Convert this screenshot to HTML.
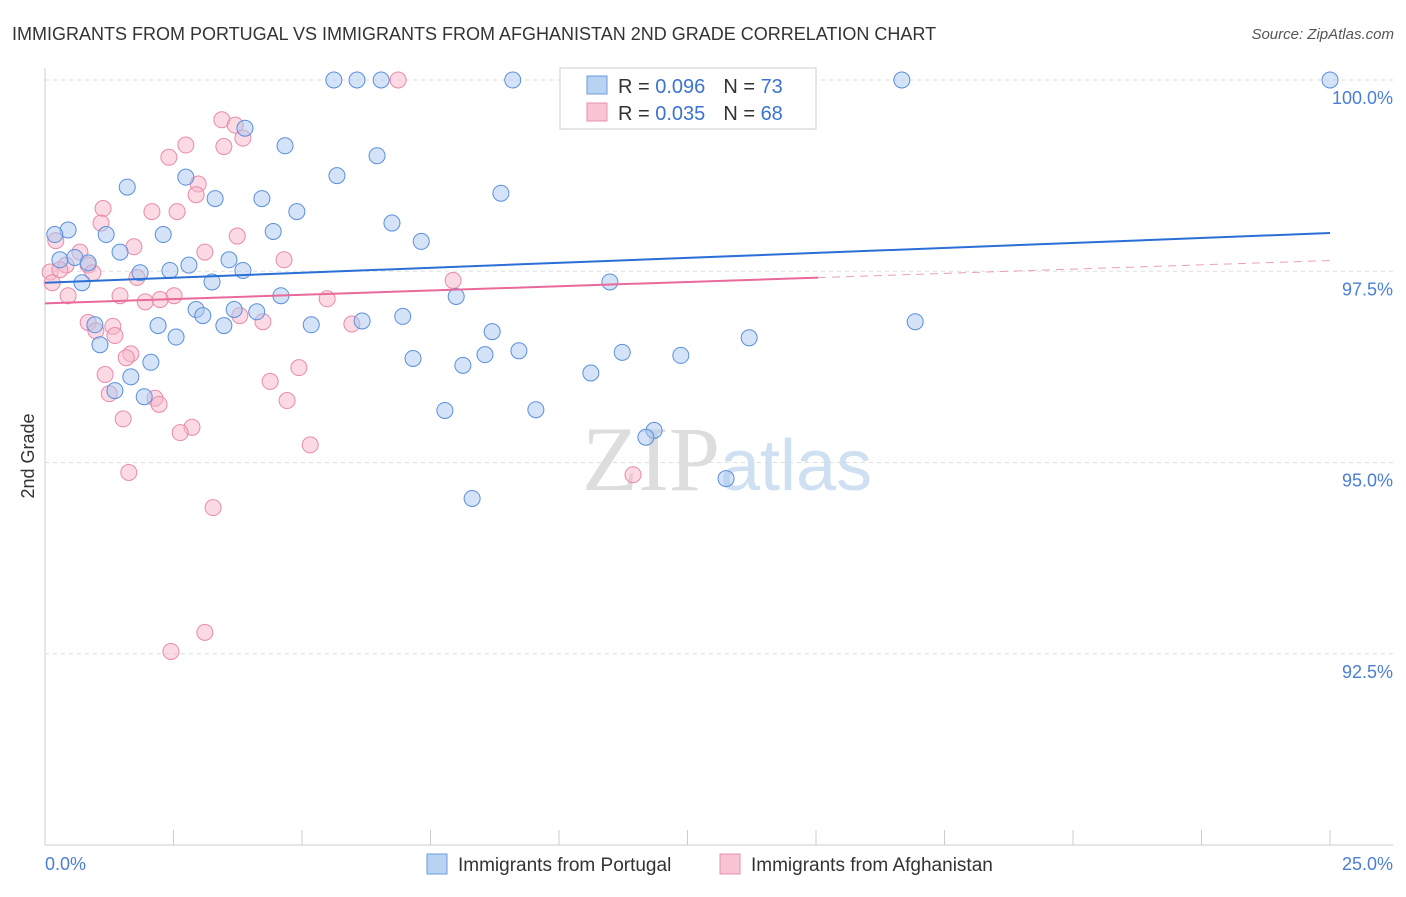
<!DOCTYPE html>
<html><head><meta charset="utf-8"><style>
body{margin:0;background:#fff;font-family:"Liberation Sans",sans-serif;}
</style></head><body>
<svg width="1406" height="892" xmlns="http://www.w3.org/2000/svg">
<text x="12" y="40" font-size="18" fill="#333">IMMIGRANTS FROM PORTUGAL VS IMMIGRANTS FROM AFGHANISTAN 2ND GRADE CORRELATION CHART</text>
<text x="1394" y="39" font-size="15" fill="#555" font-style="italic" text-anchor="end">Source: ZipAtlas.com</text>
<g id="grid"></g>
<text x="720" y="490" font-size="92" fill="#ddd" text-anchor="end" font-family="Liberation Serif">ZIP</text>
<text x="720" y="490" font-size="72" fill="#cfe0f2">atlas</text>
<text x="34" y="456" font-size="18" fill="#333" transform="rotate(-90 34 456)" text-anchor="middle">2nd Grade</text>
<text x="45" y="870" font-size="18" fill="#4a7fd4">0.0%</text>
<text x="1393" y="870" font-size="18" fill="#4a7fd4" text-anchor="end">25.0%</text>
<g id="pts"></g>
<g id="trend"></g>
<rect x="560" y="68" width="256" height="61" fill="#fff" stroke="#ccc"/>
<rect x="587" y="76" width="20" height="18" fill="#b8d2f2" stroke="#6a9be0"/>
<rect x="587" y="103" width="20" height="18" fill="#f9c4d4" stroke="#e890ab"/>
<text x="618" y="93" font-size="20" fill="#333">R = <tspan fill="#3b73d0">0.096</tspan><tspan dx="18">N = </tspan><tspan fill="#3b73d0">73</tspan></text>
<text x="618" y="120" font-size="20" fill="#333">R = <tspan fill="#3b73d0">0.035</tspan><tspan dx="18">N = </tspan><tspan fill="#3b73d0">68</tspan></text>
<rect x="427" y="854" width="20" height="20" fill="#b8d2f2" stroke="#6a9be0"/>
<text x="458" y="871" font-size="19" fill="#333">Immigrants from Portugal</text>
<rect x="720" y="854" width="20" height="20" fill="#f9c4d4" stroke="#e890ab"/>
<text x="751" y="871" font-size="19" fill="#333">Immigrants from Afghanistan</text>
</svg>
<script>
const yTicks=[100,97.5,95,92.5];
const yTickLabels=["100.0%","97.5%","95.0%","92.5%"];
const xTickVals=[0,2.5,5,7.5,10,12.5,15,17.5,20,22.5,25];
const portugalX=[5.62,6.07,6.54,9.10,13.85,16.67,25.0,3.89,4.67,6.46,2.74,5.68,1.60,3.31,4.22,8.87,4.90,6.75,0.45,0.19,1.19,2.30,4.44,7.32,1.46,0.29,0.58,0.84,2.80,3.58,1.85,2.43,3.85,3.25,0.72,10.99,4.59,8.00,2.94,3.68,4.12,3.07,6.96,0.97,2.20,3.48,5.18,6.17,16.93,2.55,8.70,1.07,13.70,9.22,8.56,11.23,12.37,7.16,8.13,2.06,10.62,1.67,1.36,1.93,7.78,9.55,11.85,11.69,13.25,8.31];
const portugalY=[100,100,100,100,100,100,100,99.37,99.14,99.01,98.73,98.75,98.60,98.45,98.45,98.52,98.28,98.13,98.04,97.98,97.98,97.98,98.02,97.89,97.75,97.65,97.68,97.61,97.58,97.65,97.48,97.51,97.51,97.36,97.35,97.36,97.18,97.17,97.00,97.00,96.97,96.92,96.91,96.80,96.79,96.79,96.80,96.85,96.84,96.64,96.71,96.54,96.63,96.46,96.41,96.44,96.40,96.36,96.27,96.31,96.17,96.12,95.94,95.86,95.68,95.69,95.42,95.33,94.79,94.53];
const afghanX=[6.87,10.39,3.44,3.70,3.85,2.74,3.48,2.41,2.98,2.94,1.13,2.08,2.57,1.09,3.74,0.21,1.73,0.68,3.11,4.65,0.41,0.84,0.10,0.29,0.93,1.79,0.14,7.94,0.45,1.46,2.51,1.95,2.24,5.49,3.79,4.24,0.84,5.97,1.32,0.99,1.36,1.67,1.58,4.94,1.17,4.38,1.25,2.14,4.71,2.22,1.52,2.86,2.63,5.16,1.63,11.44,3.27,3.11,2.45];
const afghanY=[100,100,99.48,99.41,99.24,99.15,99.13,98.99,98.64,98.50,98.32,98.28,98.28,98.13,97.96,97.90,97.82,97.75,97.75,97.65,97.58,97.58,97.49,97.52,97.48,97.42,97.35,97.38,97.18,97.18,97.18,97.10,97.13,97.14,96.92,96.84,96.83,96.81,96.78,96.72,96.66,96.42,96.37,96.24,96.15,96.06,95.90,95.84,95.81,95.76,95.57,95.46,95.39,95.23,94.87,94.84,94.41,92.78,92.53];
const portugalTrend=[97.35,98.00];
const afghanTrend=[97.08,97.64];
const afghanSolidEnd=15.04;
const NS="http://www.w3.org/2000/svg";
const X=v=>45+v/25*1285;
const Y=v=>80+(100-v)/10*765;
function mk(t,a,p){const e=document.createElementNS(NS,t);for(const k in a)e.setAttribute(k,a[k]);p.appendChild(e);return e;}
const grid=document.getElementById('grid');
mk('line',{x1:45,y1:68,x2:45,y2:845,stroke:'#ccc'},grid);
mk('line',{x1:45,y1:845,x2:1393,y2:845,stroke:'#ccc'},grid);
yTicks.forEach((t,i)=>{
 const l=mk('line',{x1:45,y1:Y(t),x2:1393,y2:Y(t),stroke:'#ddd','stroke-dasharray':'4,4'},grid);
 
 
 const tx=mk('text',{x:1393,y:Y(t)+24,'font-size':18,fill:'#4a7fd4','text-anchor':'end'},grid);
 tx.textContent=yTickLabels[i];
 
 
});
xTickVals.forEach(t=>{
 const l=mk('line',{x1:X(t),y1:830,x2:X(t),y2:845,stroke:'#ccc'},grid);
 
 
});
const pts=document.getElementById('pts');
function series(xs,ys,fill,stroke,name){xs.forEach((x,i)=>{
 const c=mk('circle',{cx:X(x),cy:Y(ys[i]),r:8,fill:fill,'fill-opacity':0.5,stroke:stroke,'stroke-width':1},pts);
 
 
});}
series(afghanX,afghanY,'#f7b6c9','#e98aa8','point-afghanistan');
series(portugalX,portugalY,'#a9c7ef','#5b8fdc','point-portugal');
const tr=document.getElementById('trend');
const t1=mk('line',{x1:X(0),y1:Y(portugalTrend[0]),x2:X(25),y2:Y(portugalTrend[1]),stroke:'#2a6fd6','stroke-width':2},tr);


const am=afghanTrend[0]+(afghanTrend[1]-afghanTrend[0])*afghanSolidEnd/25;
const t2=mk('line',{x1:X(0),y1:Y(afghanTrend[0]),x2:X(afghanSolidEnd),y2:Y(am),stroke:'#e8699a','stroke-width':2},tr);


const t3=mk('line',{x1:X(afghanSolidEnd),y1:Y(am),x2:X(25),y2:Y(afghanTrend[1]),stroke:'#e8a0b8','stroke-width':1,'stroke-dasharray':'8,6'},tr);


</script>
</body></html>
